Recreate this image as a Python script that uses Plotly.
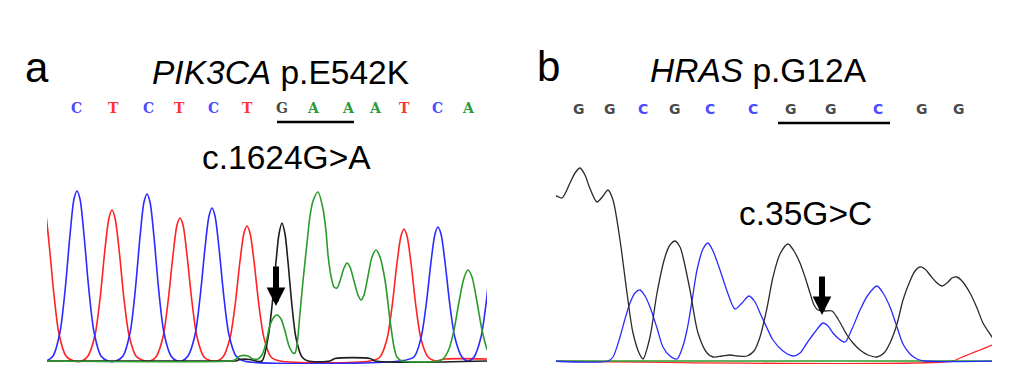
import plotly.graph_objects as go

W, H = 1036, 392

# ---------------- Panel a (PIK3CA) chromatogram traces: scan position, signal ----------------
a_red_x = [42, 45, 49, 54, 59, 66, 74, 82,
           88, 95, 100, 105, 109, 112, 115, 119, 124, 129, 136, 145, 150,
           156, 163, 168, 173, 177, 180, 183, 187, 192, 197, 204, 212, 217,
           223, 230, 235, 240, 244, 247, 250, 254, 259, 264, 271, 280, 370,
           380, 387, 392, 397, 401, 404, 407, 411, 416, 421, 428, 436, 445, 490]
a_red_y = [160, 152, 118, 66, 27, 5, 0, 0,
           5, 26, 62, 112, 143, 151, 143, 112, 62, 26, 5, 0, 0,
           4, 24, 59, 106, 136, 143, 136, 106, 59, 24, 4, 0, 0,
           4, 23, 55, 100, 128, 135, 128, 100, 55, 23, 4, 0, 0,
           4, 22, 54, 98, 125, 132, 125, 98, 54, 22, 4, 0, 2, 2]

a_blue_x = [40, 46, 53, 60, 65, 70, 74, 77, 80, 84, 89, 94, 101, 108, 116,
            123, 130, 135, 140, 144, 147, 150, 154, 159, 164, 171, 177, 182,
            188, 195, 200, 205, 209, 212, 215, 219, 224, 229, 236, 244, 400,
            414, 421, 426, 431, 435, 438, 441, 445, 450, 455, 462, 468,
            474, 481, 486, 491, 495, 498]
a_blue_y = [0, 0, 5, 29, 70, 126, 162, 170, 162, 126, 70, 29, 5, 0, 0,
            5, 28, 68, 124, 159, 167, 159, 124, 68, 28, 5, 0, 0,
            5, 26, 63, 113, 145, 153, 145, 113, 63, 26, 5, 0, 0,
            4, 23, 55, 99, 127, 134, 127, 99, 55, 23, 4, 0,
            4, 24, 57, 104, 133, 140]

a_black_x = [40, 232, 236, 240, 250, 256, 262, 268, 272, 276, 279, 282, 285,
             288, 292, 296, 302, 308, 330, 335, 370, 375, 490]
a_black_y = [0, 0, 0, 1.5, 1.5, 0, 0, 23, 55, 99, 127, 138, 127,
             99, 55, 23, 4, 0, 0, 2.5, 2.5, 0, 0]

a_green_x = [40, 230, 235, 240, 248, 253, 258, 262, 266, 270, 274, 277, 281,
             285, 289, 293, 295, 297, 300, 303, 307, 310, 313, 318, 323, 326,
             328, 331, 334, 337, 340, 344, 347, 350, 354, 358, 361, 364, 368,
             372, 376, 380, 385, 390, 394, 397, 402, 438,
             443, 449, 454, 459, 464, 468, 472, 477, 482, 487, 492]
a_green_y = [0, 0, 1, 5, 5, 2, 2, 6, 18, 36, 44, 46, 42,
             30, 15, 8, 8, 16, 48, 80, 118, 145, 160, 169, 152, 130,
             106, 85, 74, 73, 80, 93, 98, 94, 80, 66, 61, 66, 85,
             104, 111, 104, 81, 41, 14, 4, 0, 0,
             2, 12, 31, 59, 83, 91, 84, 59, 31, 12, 2]

# ---------------- Panel b (HRAS) chromatogram traces ----------------
b_black_x = [550, 556, 562, 570, 575, 580, 585, 589, 597, 603, 608, 613, 620,
             627, 633, 640, 643, 650, 657, 665, 670, 675, 680, 683, 690, 698,
             707, 713, 722, 730, 738, 747, 754, 760, 767, 773, 780, 788, 794,
             800, 805, 810, 814, 818, 825, 832, 838, 847, 853, 860, 868, 877,
             884, 890, 897, 903, 910, 915, 920, 925, 930, 936, 942, 948, 952,
             957, 962, 970, 977, 983, 992, 998]
b_black_y = [162, 165, 163, 178, 188, 193, 186, 175, 159, 165, 171, 161, 121,
             68, 28, 6, 2, 24, 68, 104, 116, 120, 114, 104, 71, 28,
             8, 4, 5, 6, 5, 5, 10, 24, 53, 84, 107, 117, 110,
             98, 84, 68, 56, 51, 50, 50, 42, 26, 18, 11, 6, 4,
             8, 18, 37, 61, 80, 90, 94, 92, 86, 79, 75, 79, 83,
             84, 80, 68, 53, 38, 24, 15]

b_blue_x = [550, 608, 613, 620, 625, 630, 635, 640, 645, 650, 657, 663, 670,
            677, 682, 687, 692, 697, 703, 708, 713, 720, 727, 735, 742, 749,
            755, 760, 767, 773, 783, 793, 800, 807, 815, 823, 828, 833, 839,
            845, 852, 860, 868, 877, 883, 890, 897, 903, 910, 917, 925, 1000]
b_blue_y = [0, 0, 4, 24, 42, 58, 68, 71, 65, 54, 33, 14, 5,
            2, 12, 31, 60, 91, 112, 118, 110, 91, 70, 52, 58, 65,
            59, 48, 33, 21, 10, 5, 8, 18, 29, 38, 35, 28, 22,
            19, 32, 51, 66, 75, 68, 54, 34, 17, 7, 2, 0, 0]

b_red_x = [550, 953, 960, 970, 980, 992, 998]
b_red_y = [0, 0, 3, 7, 11, 16, 18]

b_green_x = [550, 1000]
b_green_y = [0, 0]

# ---------------- Base calls ----------------
a_bases = list("CTCTCTGAAATCA")
a_base_pos = [76, 113, 148, 179, 213, 247, 282, 313, 348, 375, 404, 437, 468]
b_bases = list("GGCGCCGGCGG")
b_base_pos = [579, 610, 643, 675, 710, 753, 791, 831, 878, 922, 959]

# codon underline (scan positions) and arrows (scan position, signal)
a_codon = [277, 354]
b_codon = [778, 890]
a_arrow = (276, 55)
b_arrow = (822, 46)

RED, BLUE, GREEN, BLACK = "#ff2222", "#2b2bff", "#2a9a2a", "#1e1e1e"
BASE_COL = {"A": "#2f9a3a", "C": "#4a4aff", "G": "#4a4a4a", "T": "#ff3535"}


def px(x):
    return x / W


def py(y):
    return (H - y) / H


fig = go.Figure()

for xs, ys, col in [(a_red_x, a_red_y, RED), (a_blue_x, a_blue_y, BLUE),
                    (a_black_x, a_black_y, BLACK), (a_green_x, a_green_y, GREEN)]:
    fig.add_trace(go.Scatter(x=xs, y=ys, mode="lines", xaxis="x", yaxis="y",
                             line=dict(color=col, width=1.6, shape="spline", smoothing=0.8),
                             showlegend=False, hoverinfo="skip"))

for xs, ys, col in [(b_red_x, b_red_y, RED), (b_green_x, b_green_y, GREEN),
                    (b_blue_x, b_blue_y, BLUE), (b_black_x, b_black_y, "#2a2a2a")]:
    fig.add_trace(go.Scatter(x=xs, y=ys, mode="lines", xaxis="x2", yaxis="y2",
                             line=dict(color=col, width=1.3, shape="spline", smoothing=0.8),
                             showlegend=False, hoverinfo="skip"))

ydom = [(H - 364) / H, (H - 161) / H]
axis_off = dict(visible=False, showgrid=False, zeroline=False, fixedrange=True)

ann = []
FONT = "Liberation Sans, Arial, sans-serif"
for b, xpos in zip(a_bases, a_base_pos):
    ann.append(dict(x=xpos, xref="x", y=py(108), yref="paper", text=b, showarrow=False,
                    xanchor="center", yanchor="middle",
                    font=dict(family="DejaVu Serif, serif", size=14,
                              color=BASE_COL[b], weight="bold")))
for b, xpos in zip(b_bases, b_base_pos):
    ann.append(dict(x=xpos, xref="x2", y=py(109), yref="paper", text=b, showarrow=False,
                    xanchor="center", yanchor="middle",
                    font=dict(family="DejaVu Sans, sans-serif", size=14,
                              color=BASE_COL[b], weight="bold")))

texts = [("a", 36.5, 67, 42), ("<i>PIK3CA</i> p.E542K", 280.5, 73, 33.5),
         ("c.1624G>A", 286, 157, 33.5), ("b", 548, 66, 42),
         ("<i>HRAS</i> p.G12A", 758, 70, 33.5), ("c.35G>C", 805, 213, 33.5)]
for t, x, y, s in texts:
    ann.append(dict(x=px(x), xref="paper", y=py(y), yref="paper", text=t, showarrow=False,
                    xanchor="center", yanchor="middle",
                    font=dict(family=FONT, size=s, color="black")))

for (ax_x, ax_y), xr, yr, tail in [(a_arrow, "x", "y", -41), (b_arrow, "x2", "y2", -40)]:
    ann.append(dict(x=ax_x, y=ax_y, xref=xr, yref=yr, text="", showarrow=True,
                    ax=0, ay=tail, arrowhead=2, arrowsize=0.62, arrowwidth=6,
                    arrowcolor="black", standoff=0))

shapes = [
    dict(type="line", xref="x", yref="paper", x0=a_codon[0], x1=a_codon[1],
         y0=py(122), y1=py(122), line=dict(color="black", width=2.5)),
    dict(type="line", xref="x2", yref="paper", x0=b_codon[0], x1=b_codon[1],
         y0=py(123), y1=py(123), line=dict(color="black", width=2.5)),
]

fig.update_layout(
    width=W, height=H, margin=dict(l=0, r=0, t=0, b=0),
    paper_bgcolor="white", plot_bgcolor="white",
    xaxis=dict(domain=[px(47), px(487)], range=[47, 487], anchor="y", **axis_off),
    yaxis=dict(domain=ydom, range=[-3, 200], anchor="x", **axis_off),
    xaxis2=dict(domain=[px(556), px(992)], range=[556, 992], anchor="y2", **axis_off),
    yaxis2=dict(domain=ydom, range=[-3, 200], anchor="x2", **axis_off),
    annotations=ann, shapes=shapes,
)

fig.write_html("out.html", config={"displayModeBar": False},
               post_script="document.body.style.margin='0';document.body.style.overflow='hidden';")
